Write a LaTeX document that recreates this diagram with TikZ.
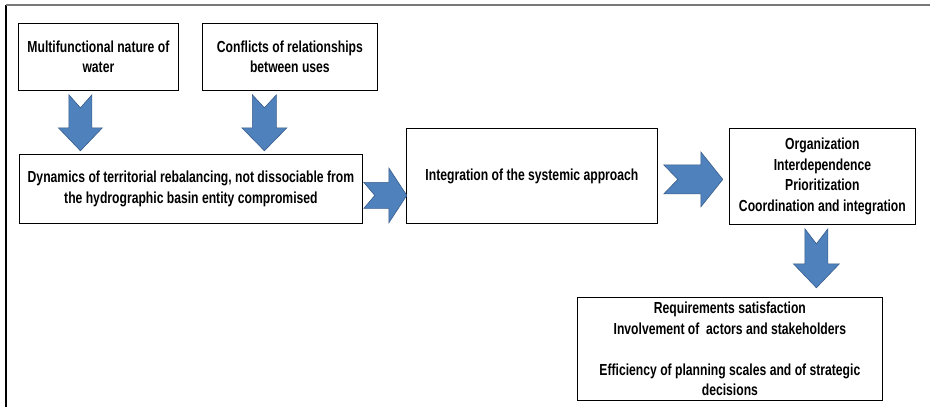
\documentclass[tikz,border=0pt]{standalone}
\usepackage{fontspec}
\setmainfont[FakeStretch=0.76]{Liberation Sans}
\usetikzlibrary{calc}

\definecolor{arrowblue}{RGB}{79,129,189}
\definecolor{arrowedge}{RGB}{56,93,138}
\definecolor{framegray}{RGB}{120,120,120}

\tikzset{
  box/.style={draw=black, line width=0.8pt, fill=white, align=center,
    inner sep=0pt, anchor=north west,
    font=\fontsize{16}{20.5}\selectfont\bfseries},
  blockarrow/.style={fill=arrowblue, draw=arrowedge, line width=0.6pt, line join=miter},
  % length/stem/head/head length/notch
  pics/fatarrow/.style args={#1/#2/#3/#4/#5}{code={
    \draw[blockarrow] (0,-#2/2) -- (#5,0) -- (0,#2/2) -- (#1-#4,#2/2)
      -- (#1-#4,#3/2) -- (#1,0) -- (#1-#4,-#3/2) -- (#1-#4,-#2/2) -- cycle;
  }}
}

\begin{document}
\begin{tikzpicture}[x=1pt,y=-1pt]
    \useasboundingbox (0,0) rectangle (930,407);

    % Draw the frame
    \draw [line width=1.5pt] (6,5) -- (6,407);
    \draw [framegray, line width=1.5pt] (6,5) -- (930,5);

    % Boxes
    \node [box, minimum width=160pt, minimum height=67pt] (water) at (18,23)
      {Multifunctional nature of\\water};
    \node [box, minimum width=175pt, minimum height=67pt] (conflicts) at (202,23)
      {Conflicts of relationships\\between uses};
    \node [box, minimum width=343pt, minimum height=69pt] (dynamics) at (19,154)
      {Dynamics of territorial rebalancing, not dissociable from\\the hydrographic basin entity compromised};
    \node [box, minimum width=251pt, minimum height=95pt] (systemic) at (406,128)
      {Integration of the systemic approach};
    \node [box, minimum width=186pt, minimum height=96pt] (organization) at (729,128)
      {Organization\\Interdependence\\Prioritization\\Coordination and integration};
    \node [box, minimum width=305pt, minimum height=103pt] (requirements) at (577,297)
      {Requirements satisfaction\\Involvement of \ actors and stakeholders\\[20.5pt]
       Efficiency of planning scales and of strategic\\decisions};

    % Block arrows
    \pic [rotate=-90] at ($(water.south)+(-18,4)$) {fatarrow=56/23/44/23/13};
    \pic [rotate=-90] at ($(conflicts.south)+(-25.5,4)$) {fatarrow=56/24/45/23/13};
    \pic at ($(dynamics.east)+(1,6.5)$) {fatarrow=43/26/55/18/11};
    \pic at ($(systemic.east)+(6,3.5)$) {fatarrow=59/29/55/22/14};
    \pic [rotate=-90] at ($(organization.south)+(-6,4)$) {fatarrow=59/23/46/24/15};
\end{tikzpicture}
\end{document}
